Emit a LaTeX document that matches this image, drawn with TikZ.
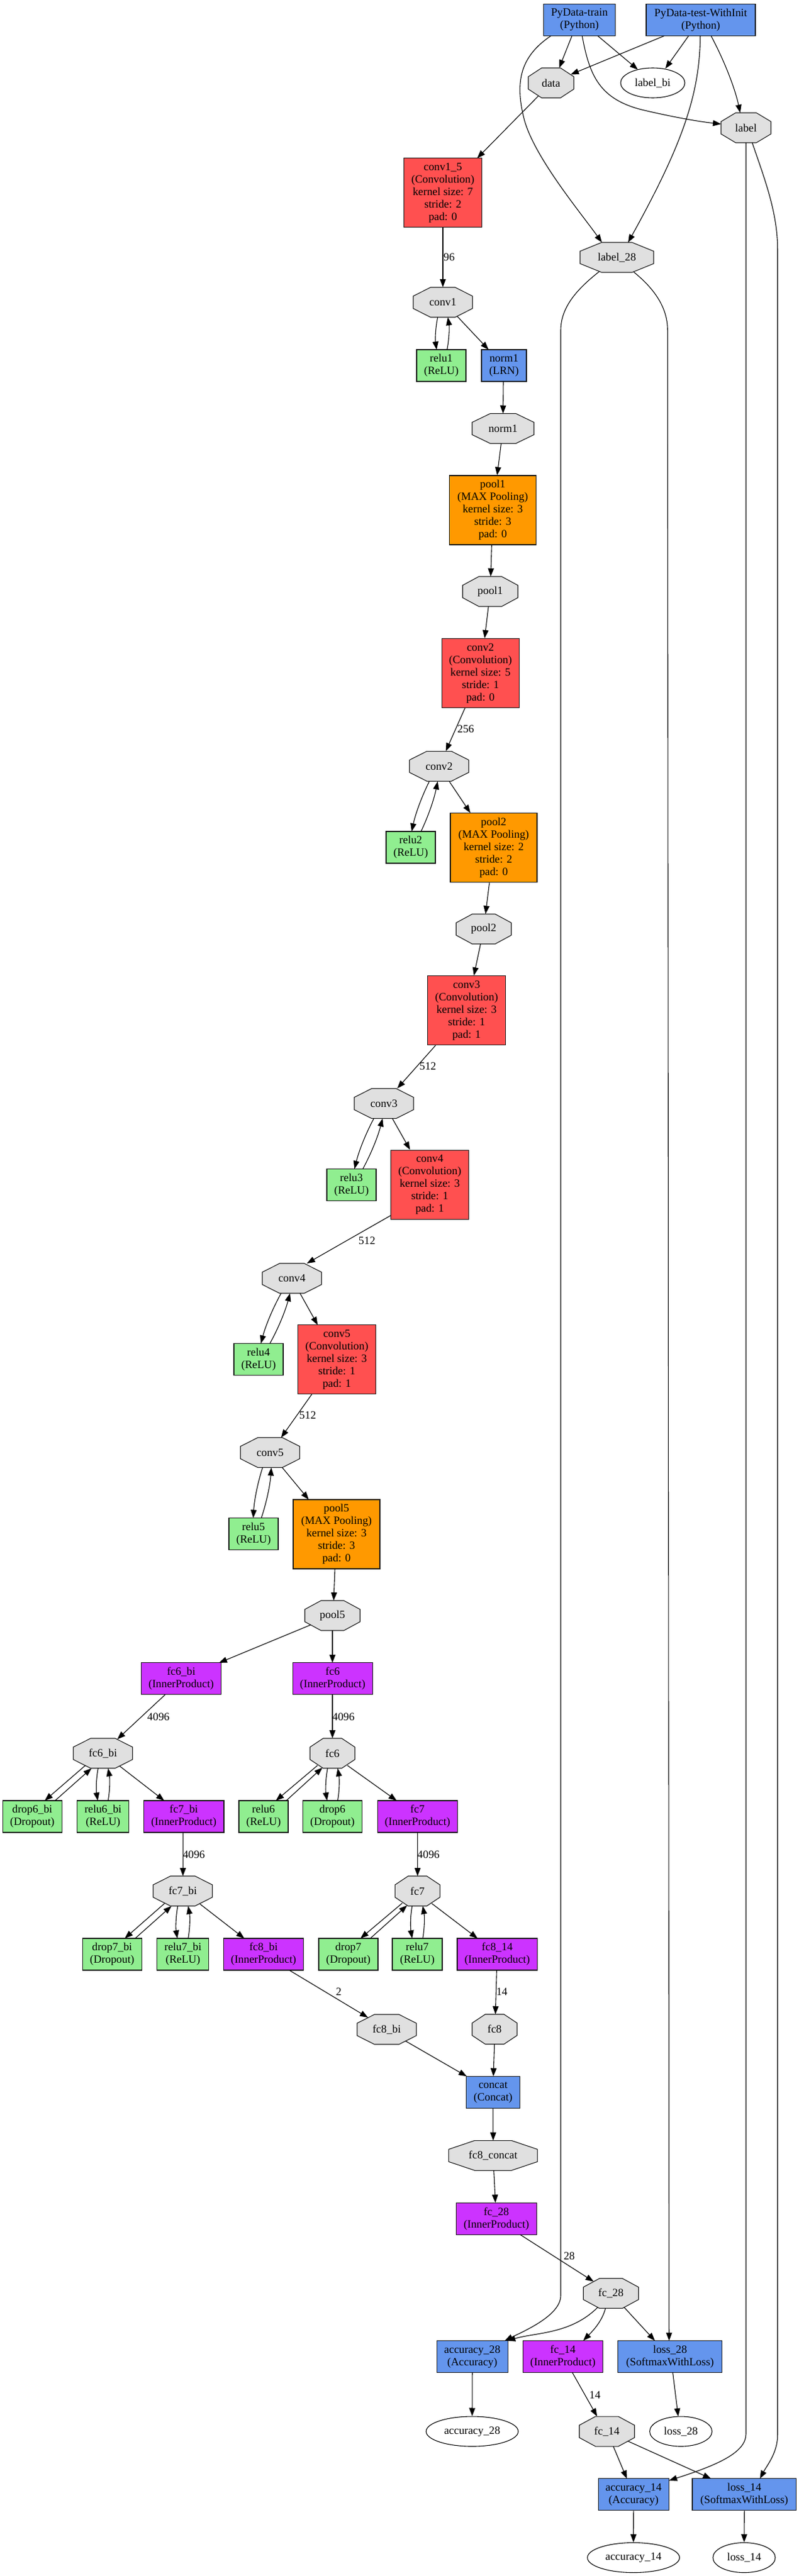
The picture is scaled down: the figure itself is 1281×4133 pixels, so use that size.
\documentclass[tikz,border=0pt]{standalone}
\usepackage{fontspec}
\setmainfont{Liberation Serif}
\usetikzlibrary{arrows.meta,shapes.geometric}
\definecolor{convred}{HTML}{FF5050}
\definecolor{poolorange}{HTML}{FF9900}
\definecolor{ippurple}{HTML}{CC33FF}
\definecolor{actgreen}{HTML}{90EE90}
\definecolor{othblue}{HTML}{6495ED}
\definecolor{blobgray}{HTML}{E0E0E0}
\newcommand\nf{\fontsize{17.8}{20}\selectfont}
% octagon blob: name, x, y, width, text
\newcommand\blob[5]{%
  \path[blobshape] ({#2-0.5*#4},{#3-9.94}) -- ({#2-0.207*#4},{#3-24}) -- ({#2+0.207*#4},{#3-24}) -- ({#2+0.5*#4},{#3-9.94}) -- ({#2+0.5*#4},{#3+9.94}) -- ({#2+0.207*#4},{#3+24}) -- ({#2-0.207*#4},{#3+24}) -- ({#2-0.5*#4},{#3+9.94}) -- cycle;
  \node[blobtext, minimum width=#4] (#1) at (#2,#3) {#5};}
\begin{document}
\begin{tikzpicture}[x=1pt,y=-1pt,
  layer/.style={rectangle, draw=black!90, line width=1.1pt, inner sep=0pt, align=center, font=\nf},
  convb/.style={layer, fill=convred, minimum width=124.5, minimum height=111},
  poolb/.style={layer, fill=poolorange, minimum width=139, minimum height=111},
  ipb/.style={layer, fill=ippurple, minimum width=128.5, minimum height=51},
  relub/.style={layer, fill=actgreen, minimum width=79, minimum height=51},
  dropb/.style={layer, fill=actgreen, minimum width=95, minimum height=51},
  othb/.style={layer, fill=othblue, minimum height=51},
  ell/.style={ellipse, draw=black, line width=1.1pt, inner sep=0pt, minimum height=48, font=\nf},
  blobshape/.style={fill=blobgray, draw=black!90, line width=1.1pt, line join=miter},
  blobtext/.style={inner sep=0pt, minimum height=48, font=\nf},
  elab/.style={inner sep=0pt, font=\nf},
  arr/.style={draw=black, line width=1.1pt, -{Triangle[length=13pt,width=9.5pt]}}
]
\useasboundingbox (0,0) rectangle (1281,4133);
\fill[white] (0,0) rectangle (1281,4133);

% ---------- layers ----------
\node[othb, minimum width=115] (train) at (929,32) {PyData-train\\(Python)};
\node[othb, minimum width=175] (test) at (1123.5,32) {PyData-test-WithInit\\(Python)};
\node[convb] (conv15L) at (710,309.3) {conv1\_5\\(Convolution)\\kernel size: 7\\stride: 2\\pad: 0};
\node[relub] (relu1) at (707.5,586.5) {relu1\\(ReLU)};
\node[othb, minimum width=72] (norm1L) at (808,586.5) {norm1\\(LRN)};
\node[poolb] (pool1L) at (790,818.5) {pool1\\(MAX Pooling)\\kernel size: 3\\stride: 3\\pad: 0};
\node[convb] (conv2L) at (770.3,1080) {conv2\\(Convolution)\\kernel size: 5\\stride: 1\\pad: 0};
\node[relub] (relu2) at (658.5,1359.5) {relu2\\(ReLU)};
\node[poolb] (pool2L) at (791.5,1360.3) {pool2\\(MAX Pooling)\\kernel size: 2\\stride: 2\\pad: 0};
\node[convb] (conv3L) at (748,1621.2) {conv3\\(Convolution)\\kernel size: 3\\stride: 1\\pad: 1};
\node[relub] (relu3) at (563.5,1901) {relu3\\(ReLU)};
\node[convb] (conv4L) at (689,1900.8) {conv4\\(Convolution)\\kernel size: 3\\stride: 1\\pad: 1};
\node[relub] (relu4) at (414.5,2181) {relu4\\(ReLU)};
\node[convb] (conv5L) at (540,2181.3) {conv5\\(Convolution)\\kernel size: 3\\stride: 1\\pad: 1};
\node[relub] (relu5) at (406.5,2461) {relu5\\(ReLU)};
\node[poolb] (pool5L) at (539.5,2461.5) {pool5\\(MAX Pooling)\\kernel size: 3\\stride: 3\\pad: 0};
\node[ipb] (fc6biL) at (290.5,2693.4) {fc6\_bi\\(InnerProduct)};
\node[ipb] (fc6L) at (533.3,2693.4) {fc6\\(InnerProduct)};
\node[dropb] (drop6bi) at (51.8,2914.5) {drop6\_bi\\(Dropout)};
\node[relub, minimum width=83] (relu6bi) at (165.2,2914.5) {relu6\_bi\\(ReLU)};
\node[ipb] (fc7biL) at (294.7,2914.5) {fc7\_bi\\(InnerProduct)};
\node[relub] (relu6) at (422.5,2914.5) {relu6\\(ReLU)};
\node[dropb] (drop6) at (533,2914.5) {drop6\\(Dropout)};
\node[ipb] (fc7L) at (669.3,2914.5) {fc7\\(InnerProduct)};
\node[dropb] (drop7bi) at (179.8,3135.5) {drop7\_bi\\(Dropout)};
\node[relub, minimum width=83] (relu7bi) at (293.3,3135.5) {relu7\_bi\\(ReLU)};
\node[ipb] (fc8biL) at (422.5,3135.5) {fc8\_bi\\(InnerProduct)};
\node[dropb] (drop7) at (558.5,3135.5) {drop7\\(Dropout)};
\node[relub, minimum width=80] (relu7) at (669,3135.5) {relu7\\(ReLU)};
\node[ipb] (fc814) at (797.2,3135.5) {fc8\_14\\(InnerProduct)};
\node[othb, minimum width=85.7] (concat) at (790.5,3357) {concat\\(Concat)};
\node[ipb] (fc28L) at (795.8,3559.7) {fc\_28\\(InnerProduct)};
\node[othb, minimum width=114] (acc28L) at (757.2,3781) {accuracy\_28\\(Accuracy)};
\node[ipb] (fc14L) at (902.5,3781) {fc\_14\\(InnerProduct)};
\node[othb, minimum width=167] (loss28L) at (1074.3,3781) {loss\_28\\(SoftmaxWithLoss)};
\node[othb, minimum width=113.5] (acc14L) at (1015.8,4002.3) {accuracy\_14\\(Accuracy)};
\node[othb, minimum width=166.6] (loss14L) at (1193.3,4002.3) {loss\_14\\(SoftmaxWithLoss)};

% ---------- blobs ----------
\blob{data}{883.5}{133}{73}{data}
\blob{label}{1196}{205}{80}{label}
\blob{label28}{989}{413}{118}{label\_28}
\blob{conv1}{710}{485}{95}{conv1}
\blob{norm1}{806.5}{687.5}{99}{norm1}
\blob{pool1}{786}{949}{88.5}{pool1}
\blob{conv2}{704}{1229.3}{95}{conv2}
\blob{pool2}{775.5}{1490.5}{88.5}{pool2}
\blob{conv3}{615.5}{1770.5}{95}{conv3}
\blob{conv4}{468}{2051}{95}{conv4}
\blob{conv5}{433}{2330.5}{95}{conv5}
\blob{pool5}{533}{2592}{88.5}{pool5}
\blob{fc6bi}{165}{2813}{95}{fc6\_bi}
\blob{fc6}{533}{2813}{72}{fc6}
\blob{fc7bi}{293}{3034}{95}{fc7\_bi}
\blob{fc7}{669.3}{3034}{72}{fc7}
\blob{fc8bi}{620}{3256}{95}{fc8\_bi}
\blob{fc8}{793}{3255.7}{72}{fc8}
\blob{fc8concat}{790.5}{3458.3}{142.3}{fc8\_concat}
\blob{fc28}{979.5}{3679.5}{88.5}{fc\_28}
\blob{fc14}{973}{3901}{88.5}{fc\_14}

% ---------- plain outputs ----------
\node[ell, minimum width=103] (labelbi) at (1046.5,133) {label\_bi};
\node[ell, minimum width=147.7] (acc28) at (757,3901) {accuracy\_28};
\node[ell, minimum width=100] (loss28) at (1091.6,3901) {loss\_28};
\node[ell, minimum width=147.7] (acc14) at (1015.6,4103.5) {accuracy\_14};
\node[ell, minimum width=100] (loss14) at (1193,4103.5) {loss\_14};

% ---------- edge labels ----------
\node[elab] (t96) at (720,412.3) {96};
\node[elab] (t256) at (746.7,1169.6) {256};
\node[elab] (t512a) at (686,1710.7) {512};
\node[elab] (t512b) at (588.3,1990.6) {512};
\node[elab] (t512c) at (493.3,2271) {512};
\node[elab] (t4096a) at (254,2754.5) {4096};
\node[elab] (t4096b) at (550.7,2754.5) {4096};
\node[elab] (t4096c) at (310.8,2975.2) {4096};
\node[elab] (t4096d) at (687,2975.2) {4096};
\node[elab] (t2) at (543,3196) {2};
\node[elab] (t14a) at (804.7,3196) {14};
\node[elab] (t28) at (912.7,3620) {28};
\node[elab] (t14b) at (953.8,3842.3) {14};

% ---------- edges ----------
\draw[arr] ([shift={(-12,25.5)}]train.center) -- ([shift={(13,-24)}]data.center);
\draw[arr] ([shift={(29.3,25.5)}]train.center) -- ([shift={(-23.8,-21.3)}]labelbi.center);
\draw[arr] ([shift={(4.3,25.5)}]train.center) .. controls (945,120) and (960,160) .. (1033,177) .. controls (1080,188) and (1120,195) .. ([shift={(-40,-6)}]label.center);
\draw[arr] ([shift={(-45.7,25.5)}]train.center) .. controls (835,90) and (825,130) .. (840,190) .. controls (855,250) and (930,340) .. ([shift={(-24,-24)}]label28.center);
\draw[arr] ([shift={(-58.5,25.5)}]test.center) -- ([shift={(31.5,-13.5)}]data.center);
\draw[arr] ([shift={(-19.5,25.5)}]test.center) -- ([shift={(20.2,-23)}]labelbi.center);
\draw[arr] ([shift={(-0.8,25.5)}]test.center) .. controls (1122,150) and (1095,230) .. ([shift={(18,-24)}]label28.center);
\draw[arr] ([shift={(16.5,25.5)}]test.center) .. controls (1160,95) and (1178,140) .. ([shift={(-9.3,-24)}]label.center);
\draw[arr] ([shift={(-20.2,20.8)}]data.center) -- ([shift={(55,-55.5)}]conv15L.center);
\draw[arr] (conv15L.south) -- (conv1.north);
\draw[arr] ([shift={(-8.3,24)}]conv1.center) .. controls +(-3.5,17) and +(-2.5,-17) .. ([shift={(-7.5,-25.5)}]relu1.center);
\draw[arr] ([shift={(9.2,-25.5)}]relu1.center) .. controls +(3.4,-17) and +(2.6,17) .. ([shift={(8,24)}]conv1.center);
\draw[arr] ([shift={(23,22.5)}]conv1.center) -- ([shift={(-24.7,-25.5)}]norm1L.center);
\draw[arr] ([shift={(-1,25.5)}]norm1L.center) -- ([shift={(0,-24)}]norm1.center);
\draw[arr] (norm1) -- (pool1L);
\draw[arr] (pool1L) -- (pool1);
\draw[arr] (pool1) -- (conv2L);
\draw[arr] (conv2L) -- (conv2);
\draw[arr] ([shift={(-15.7,24.3)}]conv2.center) .. controls +(-12.7,25.6) and +(6.1,-28) .. ([shift={(1.5,-25.5)}]relu2.center);
\draw[arr] ([shift={(16.5,-25.5)}]relu2.center) .. controls +(12.2,-25.7) and +(-5.6,27.9) .. ([shift={(-2.3,24.3)}]conv2.center);
\draw[arr] (conv2) -- (pool2L);
\draw[arr] (pool2L) -- (pool2);
\draw[arr] (pool2) -- (conv3L);
\draw[arr] (conv3L) -- (conv3);
\draw[arr] ([shift={(-16.2,24)}]conv3.center) .. controls +(-13.6,25.7) and +(7,-28.3) .. ([shift={(4.8,-25.5)}]relu3.center);
\draw[arr] ([shift={(18.2,-25.5)}]relu3.center) .. controls +(13.8,-25.7) and +(-7.2,28.3) .. ([shift={(-2.2,24)}]conv3.center);
\draw[arr] (conv3) -- (conv4L);
\draw[arr] ([shift={(-62,49)}]conv4L.center) -- ([shift={(24,-24)}]conv4.center);
\draw[arr] ([shift={(-17.3,24)}]conv4.center) .. controls +(-14.1,25.5) and +(7.5,-28.1) .. ([shift={(3.8,-25.5)}]relu4.center);
\draw[arr] ([shift={(18.2,-25.5)}]relu4.center) .. controls +(14.1,-25.5) and +(-7.5,28.1) .. ([shift={(-3,24)}]conv4.center);
\draw[arr] ([shift={(13,24)}]conv4.center) -- ([shift={(-30.7,-55.5)}]conv5L.center);
\draw[arr] ([shift={(-40,55.5)}]conv5L.center) -- ([shift={(17.7,-24)}]conv5.center);
\draw[arr] ([shift={(-12,24)}]conv5.center) .. controls +(-8.4,26.4) and +(1.6,-27.6) .. ([shift={(-0.5,-25.5)}]relu5.center);
\draw[arr] ([shift={(12.5,-25.5)}]relu5.center) .. controls +(8.7,-26.3) and +(-1.9,27.7) .. ([shift={(2,24)}]conv5.center);
\draw[arr] ([shift={(19.5,24)}]conv5.center) -- ([shift={(-44.5,-55.5)}]pool5L.center);
\draw[arr] ([shift={(-2.5,55.5)}]pool5L.center) -- ([shift={(2,-24)}]pool5.center);
\draw[arr] ([shift={(-35,15)}]pool5.center) -- ([shift={(60.5,-25.5)}]fc6biL.center);
\draw[arr] ([shift={(0,24)}]pool5.center) -- ([shift={(-0.3,-25.5)}]fc6L.center);
\draw[arr] ([shift={(-25.7,25.5)}]fc6biL.center) -- ([shift={(23,-22.5)}]fc6bi.center);
\draw[arr] ([shift={(-0.3,25.5)}]fc6L.center) -- ([shift={(0,-24)}]fc6.center);
% fc6_bi group
\draw[arr] ([shift={(-28.3,19.6)}]fc6bi.center) -- ([shift={(19.9,-25.5)}]drop6bi.center);
\draw[arr] ([shift={(36.5,-25.5)}]drop6bi.center) -- ([shift={(-18.3,24)}]fc6bi.center);
\draw[arr] ([shift={(-7.7,24)}]fc6bi.center) .. controls +(-3.2,17.3) and +(-2.8,-17.3) .. ([shift={(-8.5,-25.5)}]relu6bi.center);
\draw[arr] ([shift={(8.1,-25.5)}]relu6bi.center) .. controls +(3,-17.3) and +(3,17.3) .. ([shift={(8.3,24)}]fc6bi.center);
\draw[arr] ([shift={(26.7,20.4)}]fc6bi.center) -- ([shift={(-31.4,-25.5)}]fc7biL.center);
\draw[arr] ([shift={(-1.4,25.5)}]fc7biL.center) -- ([shift={(0.3,-24)}]fc7bi.center);
\draw[arr] ([shift={(-28.7,19.4)}]fc7bi.center) -- ([shift={(20.2,-25.5)}]drop7bi.center);
\draw[arr] ([shift={(36.9,-25.5)}]drop7bi.center) -- ([shift={(-18,24)}]fc7bi.center);
\draw[arr] ([shift={(-8,24)}]fc7bi.center) .. controls +(-3.2,17.3) and +(-2.8,-17.3) .. ([shift={(-9,-25.5)}]relu7bi.center);
\draw[arr] ([shift={(8.4,-25.5)}]relu7bi.center) .. controls +(3,-17.3) and +(3,17.3) .. ([shift={(8.7,24)}]fc7bi.center);
\draw[arr] ([shift={(27,20.3)}]fc7bi.center) -- ([shift={(-30.8,-25.5)}]fc8biL.center);
\draw[arr] ([shift={(41.3,25.5)}]fc8biL.center) -- ([shift={(-30,-19)}]fc8bi.center);
% fc6 group
\draw[arr] ([shift={(-24,19.5)}]fc6.center) -- ([shift={(19.8,-25.5)}]relu6.center);
\draw[arr] ([shift={(36.4,-25.5)}]relu6.center) -- ([shift={(-16.1,23)}]fc6.center);
\draw[arr] ([shift={(-7.8,24)}]fc6.center) .. controls +(-3.2,17.3) and +(-2.8,-17.3) .. ([shift={(-8.6,-25.5)}]drop6.center);
\draw[arr] ([shift={(8.4,-25.5)}]drop6.center) .. controls +(3,-17.3) and +(3,17.3) .. ([shift={(8.4,24)}]fc6.center);
\draw[arr] ([shift={(24,19.5)}]fc6.center) -- ([shift={(-33.3,-25.5)}]fc7L.center);
\draw[arr] ([shift={(0.2,25.5)}]fc7L.center) -- ([shift={(0.2,-24)}]fc7.center);
\draw[arr] ([shift={(-24.5,19.5)}]fc7.center) -- ([shift={(19.4,-25.5)}]drop7.center);
\draw[arr] ([shift={(35.1,-25.5)}]drop7.center) -- ([shift={(-16.5,23)}]fc7.center);
\draw[arr] ([shift={(-8.5,24)}]fc7.center) .. controls +(-3.2,17.3) and +(-2.8,-17.3) .. ([shift={(-8.2,-25.5)}]relu7.center);
\draw[arr] ([shift={(8.8,-25.5)}]relu7.center) .. controls +(3,-17.3) and +(3,17.3) .. ([shift={(8.5,24)}]fc7.center);
\draw[arr] ([shift={(23,20)}]fc7.center) -- ([shift={(-31.5,-25.5)}]fc814.center);
\draw[arr] ([shift={(-0.9,25.5)}]fc814.center) -- ([shift={(1.3,-24)}]fc8.center);
% merge
\draw[arr] ([shift={(30,18.5)}]fc8bi.center) -- ([shift={(-42.2,-25.7)}]concat.center);
\draw[arr] ([shift={(-0.3,24)}]fc8.center) -- ([shift={(0.5,-25.7)}]concat.center);
\draw[arr] ([shift={(0.2,25.7)}]concat.center) -- ([shift={(0.2,-24)}]fc8concat.center);
\draw[arr] ([shift={(1.2,24)}]fc8concat.center) -- ([shift={(-1.5,-25.5)}]fc28L.center);
\draw[arr] ([shift={(38.1,25.5)}]fc28L.center) -- ([shift={(-27.7,-18.9)}]fc28.center);
% heads
\draw[arr] ([shift={(-21.2,22.4)}]fc28.center) .. controls (915,3745) and (860,3742) .. ([shift={(56,-25.5)}]acc28L.center);
\draw[arr] ([shift={(-28,22.5)}]label28.center) .. controls (930,460) and (899,490) .. (899,530) -- (899,3683) .. controls (899,3715) and (840,3740) .. ([shift={(52,-25.5)}]acc28L.center);
\draw[arr] ([shift={(-8.8,24)}]fc28.center) .. controls (965,3725) and (950,3740) .. ([shift={(32.5,-25.5)}]fc14L.center);
\draw[arr] ([shift={(21.2,22.4)}]fc28.center) -- ([shift={(-24.3,-25.5)}]loss28L.center);
\draw[arr] ([shift={(26.7,23.1)}]label28.center) .. controls (1045,460) and (1070.3,490) .. (1070.3,530) -- ([shift={(-1.6,-25.5)}]loss28L.center);
\draw[arr] ([shift={(15.1,25.5)}]fc14L.center) -- ([shift={(-15.7,-24)}]fc14.center);
\draw[arr] ([shift={(4.3,25.5)}]loss28L.center) -- ([shift={(-4.3,-24)}]loss28.center);
\draw[arr] (acc28L.south) -- (acc28.north);
\draw[arr] ([shift={(10.3,24)}]fc14.center) -- ([shift={(-10.8,-25.5)}]acc14L.center);
\draw[arr] ([shift={(33.7,15.6)}]fc14.center) -- ([shift={(-53.3,-25.5)}]loss14L.center);
\draw[arr] ([shift={(0,24)}]label.center) -- (1196,3905) .. controls (1196,3935) and (1150,3955) .. ([shift={(56.7,-22.5)}]acc14L.center);
\draw[arr] ([shift={(10,24)}]label.center) .. controls (1225,285) and (1246.7,340) .. (1246.7,400) -- (1246.7,3906.7) .. controls (1246.7,3935) and (1230,3955) .. ([shift={(25,-25.5)}]loss14L.center);
\draw[arr] (acc14L.south) -- (acc14.north);
\draw[arr] (loss14L.south) -- (loss14.north);
\end{tikzpicture}
\end{document}
